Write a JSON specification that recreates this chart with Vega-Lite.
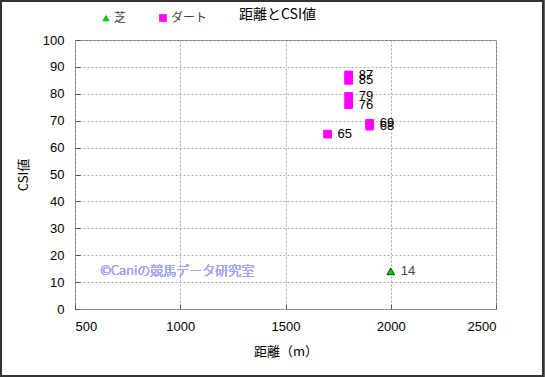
{
  "$schema": "https://vega.github.io/schema/vega-lite/v6.json",
  "autosize": "none",
  "width": 421,
  "height": 269,
  "padding": {"left": 75, "top": 40, "right": 49, "bottom": 68},
  "background": "white",
  "title": {"text": "距離とCSI値", "anchor": "middle", "frame": "group", "dx": -8, "dy": 22, "offset": 0, "fontSize": 14, "fontWeight": "normal", "color": "#000", "font": "Noto Sans CJK JP"},
  "config": {
    "font": "Liberation Sans",
    "view": {"stroke": "#777", "strokeWidth": 1},
    "axis": {"labelFont": "Liberation Sans", "labelFontSize": 13, "labelColor": "#000", "titleFont": "Noto Sans CJK JP", "titleFontSize": 13, "titleFontWeight": "normal", "titleColor": "#000", "gridColor": "#aaa", "gridDash": [2, 2], "domain": false, "tickColor": "#555", "tickSize": -5, "labelPadding": 16}
  },
  "data": {"values": [
    {"kind": "ダート", "dist": 1800, "csi": 87},
    {"kind": "ダート", "dist": 1800, "csi": 85},
    {"kind": "ダート", "dist": 1800, "csi": 79},
    {"kind": "ダート", "dist": 1800, "csi": 76},
    {"kind": "ダート", "dist": 1900, "csi": 69},
    {"kind": "ダート", "dist": 1900, "csi": 68},
    {"kind": "ダート", "dist": 1700, "csi": 65},
    {"kind": "芝", "dist": 2000, "csi": 14}
  ]},
  "encoding": {
    "x": {"field": "dist", "type": "quantitative", "scale": {"domain": [500, 2500], "nice": false}, "axis": {"values": [500, 1000, 1500, 2000, 2500], "format": "d", "title": "距離（m）", "titlePadding": 12}},
    "y": {"field": "csi", "type": "quantitative", "scale": {"domain": [0, 100], "nice": false}, "axis": {"values": [0, 10, 20, 30, 40, 50, 60, 70, 80, 90, 100], "format": "d", "title": "CSI値", "titlePadding": 12}}
  },
  "layer": [
    {
      "mark": {"type": "point", "filled": true, "opacity": 1, "size": 60, "strokeWidth": 1},
      "encoding": {
        "shape": {"field": "kind", "type": "nominal", "scale": {"domain": ["芝", "ダート"], "range": ["triangle-up", "square"]},
          "legend": {"orient": "none", "legendX": 25, "legendY": -28, "direction": "horizontal", "title": null, "labelFont": "Noto Sans CJK JP", "labelFontSize": 12, "labelColor": "#444", "symbolSize": 60, "symbolStrokeWidth": 0, "columnPadding": 30, "labelOffset": 2}},
        "color": {"field": "kind", "type": "nominal", "scale": {"domain": ["芝", "ダート"], "range": ["#00cc00", "#ff00ff"]},
          "legend": {"orient": "none", "legendX": 25, "legendY": -28, "direction": "horizontal", "title": null, "labelFont": "Noto Sans CJK JP", "labelFontSize": 12, "labelColor": "#444", "symbolSize": 60, "symbolStrokeWidth": 0, "columnPadding": 30, "labelOffset": 2}},
        "stroke": {"condition": {"test": "datum.kind === '芝'", "value": "#005500"}, "value": "#ff00ff"}
      }
    },
    {
      "mark": {"type": "text", "align": "left", "baseline": "middle", "dx": 10, "fontSize": 13, "font": "Liberation Sans"},
      "encoding": {
        "text": {"field": "csi", "type": "quantitative"},
        "color": {"condition": {"test": "datum.kind === '芝'", "value": "#444444"}, "value": "#000000"}
      }
    },
    {
      "mark": {"type": "text", "align": "left", "baseline": "middle", "fontSize": 13, "fontWeight": 300, "font": "Noto Sans CJK JP", "color": "#a4a4ff"},
      "encoding": {
        "x": {"datum": 620, "type": "quantitative"},
        "y": {"datum": 14, "type": "quantitative"},
        "text": {"value": "©Caniの競馬データ研究室"}
      }
    },
    {
      "mark": {"type": "rect", "fill": null, "stroke": "#333", "strokeWidth": 2},
      "encoding": {
        "x": {"datum": 148, "type": "quantitative"},
        "x2": {"datum": 2724},
        "y": {"datum": 114.5, "type": "quantitative"},
        "y2": {"datum": -24.9}
      }
    }
  ]
}
